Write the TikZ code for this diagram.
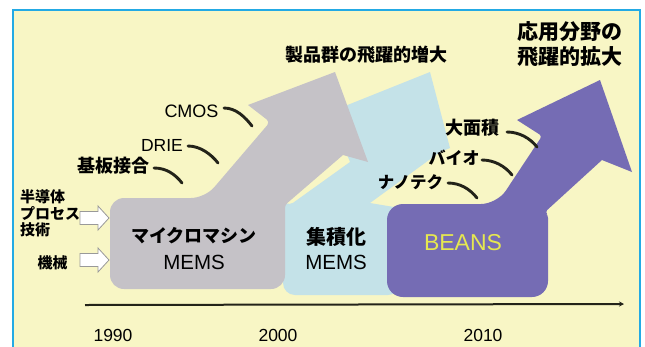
\documentclass[tikz,border=0pt]{standalone}
\usepackage{fontspec}
\setmainfont{Liberation Sans}
\newfontfamily\jpfont{Noto Sans CJK JP}
\usetikzlibrary{arrows.meta}
\definecolor{bgY}{RGB}{248,246,197}
\definecolor{frameB}{RGB}{35,170,228}
\definecolor{grayS}{RGB}{197,194,199}
\definecolor{blueS}{RGB}{196,226,232}
\definecolor{purS}{RGB}{117,108,180}
\definecolor{ink}{RGB}{35,35,25}
\definecolor{beansY}{RGB}{230,232,80}
\begin{document}
\begin{tikzpicture}[x=1pt,y=-1pt,
  jptxt/.style={font=\jpfont\bfseries\fontsize{#1}{#1}\selectfont, inner sep=0pt, text=black},
  entxt/.style={font=\fontsize{#1}{#1}\selectfont, inner sep=0pt, text=black},
  swoosh/.style={draw=ink, line width=2.9pt, line cap=round},
  warrow/.style={fill=white, draw=black!40, line width=0.8pt}]
\useasboundingbox (0,0) rectangle (645,346);
\clip (0,0) rectangle (645,346);
\fill[white] (0,0) rectangle (645,346);
\fill[bgY] (13,10) rectangle (640,360);
\draw[frameB, line width=2.4pt] (13,10) rectangle (640,360);

% light blue shape
\fill[blueS] (283,250) [rounded corners=4pt] -- (283,202) -- (290,205) [sharp corners] -- (350,162) -- (330,112) -- (430,72) -- (450,148) -- (440,152) -- (370,203) -- (400,208) [rounded corners=12pt] -- (400,295) -- (283,295) -- cycle;
% gray shape
\fill[grayS] (110,240) [rounded corners=14pt] -- (110,198) -- (205,198) [rounded corners=4pt] -- (270,122) [sharp corners] -- (248,105) -- (335,72) -- (368,162) -- (343,155) [rounded corners=3pt] -- (285,205) [rounded corners=14pt] -- (285,289) -- (110,289) -- cycle;
% purple shape
\fill[purS] (387,250) [rounded corners=16pt] -- (387,204) -- (497,204) [rounded corners=3pt] -- (542,136) [sharp corners] -- (517,120) -- (600,80) -- (632,172) -- (602,160) [rounded corners=3pt] -- (545,212) -- (548,215) [rounded corners=16pt] -- (548,297) -- (387,297) -- cycle;

% timeline
\coordinate (tl0) at (85,305);
\coordinate (tl1) at (624,304);
\draw[ink, line width=2pt, -{Stealth[length=5pt,width=5pt]}] (tl0) -- (tl1);
\node[entxt=17.5] (y1990) at (113,335) {1990};
\node[entxt=17.5] (y2000) at (278,335) {2000};
\node[entxt=17.5] (y2010) at (483,335) {2010};

% box labels
\node[jptxt=18] (micro) at (194,236) {マイクロマシン};
\node[entxt=20.5] (mems1) at (194,262.5) {MEMS};
\node[jptxt=20] (shuseki) at (336,237) {集積化};
\node[entxt=20.5] (mems2) at (336,262.5) {MEMS};
\node[entxt=23, text=beansY] (beans) at (463,243) {BEANS};

% headings
\node[jptxt=18] (seihin) at (366.5,55) {製品群の飛躍的増大};
\node[jptxt=21, align=center] (ouyou) at (569.5,44.5) {応用分野の\\[4pt]飛躍的拡大};

% left inputs
\node[jptxt=15, align=left, anchor=west] (hando) at (20,213.5) {半導体\\[1.5pt]プロセス\\[1.5pt]技術};
\node[jptxt=15] (kikai) at (52.5,263) {機械};
\draw[warrow] (80,211.5) -- (98,211.5) -- (98,206) -- (109,218) -- (98,230) -- (98,224.5) -- (80,224.5) -- cycle;
\draw[warrow] (80,253.5) -- (98,253.5) -- (98,248) -- (109,260) -- (98,272) -- (98,266.5) -- (80,266.5) -- cycle;

% technology labels with swooshes
\node[entxt=18] (cmos) at (191.5,111) {CMOS};
\node[entxt=17.5] (drie) at (162,145) {DRIE};
\node[jptxt=18] (kiban) at (113.5,166) {基板接合};
\node[jptxt=18] (daimen) at (472,128) {大面積};
\node[jptxt=17] (bio) at (454,158) {バイオ};
\node[jptxt=16.5] (nano) at (410.5,182) {ナノテク};

\coordinate (s1a) at (224,108); \coordinate (s1b) at (252,126);
\coordinate (s2a) at (188,146); \coordinate (s2b) at (218,163);
\coordinate (s3a) at (154,168); \coordinate (s3b) at (182,183);
\coordinate (s4a) at (507,132); \coordinate (s4b) at (537,147);
\coordinate (s5a) at (482,160); \coordinate (s5b) at (512,175);
\coordinate (s6a) at (448,183); \coordinate (s6b) at (477,198);
\foreach \a/\b in {s1a/s1b,s2a/s2b,s3a/s3b,s4a/s4b,s5a/s5b,s6a/s6b}{
  \draw[swoosh] (\a) .. controls +(12,0) and +(-7,-9) .. (\b);
}
\end{tikzpicture}
\end{document}
